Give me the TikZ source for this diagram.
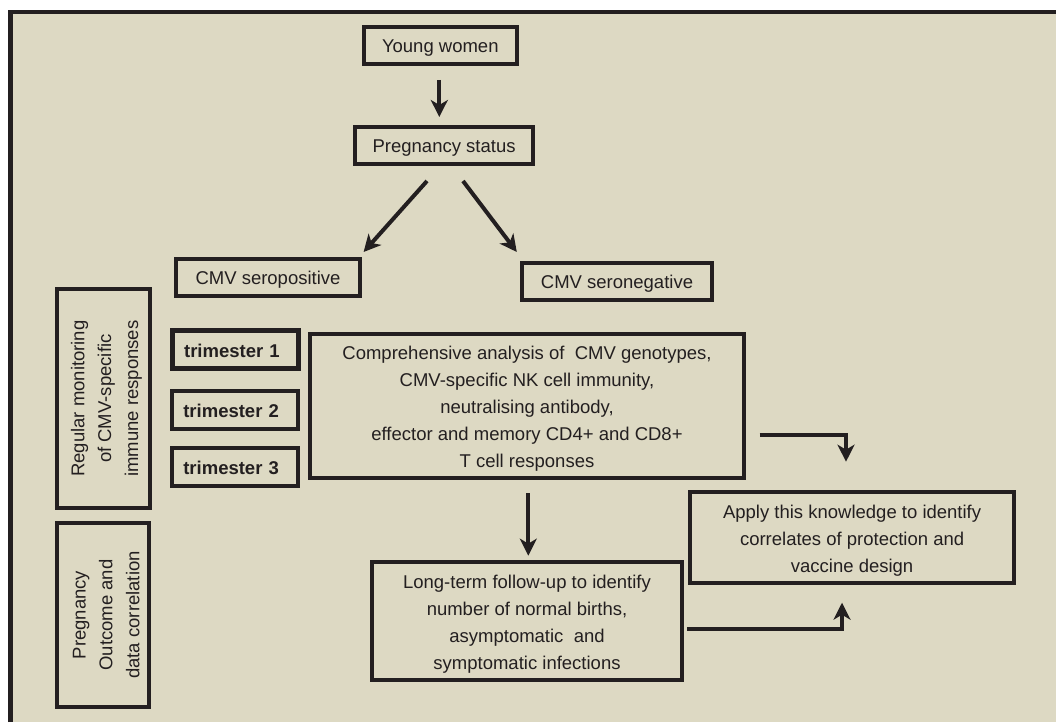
\documentclass[tikz,border=0pt]{standalone}
\usepackage{fontspec}
\setmainfont{Liberation Sans}
\usetikzlibrary{arrows.meta,calc}
\definecolor{bg}{HTML}{DDD9C3}
\definecolor{ink}{HTML}{231F20}
\newcommand\bstrut{\rule[-1.8pt]{0pt}{18.8pt}}
\begin{document}
\begin{tikzpicture}[x=1pt,y=-1pt,
  box/.style={draw=ink, line width=4pt, inner sep=0pt, align=center, text=ink,
    font=\fontsize{18.5}{26.9}\selectfont,
    execute at begin node=\bstrut, execute at end node=\bstrut},
  mtext/.style={inner sep=0pt, align=center, text=ink, font=\fontsize{18.5}{26.9}\selectfont},
  tribox/.style={box, align=left, inner xsep=11.3pt, text width=103.4pt, minimum height=#1,
    font=\fontsize{18.5}{26.9}\selectfont\bfseries},
  arr/.style={draw=ink, line width=4pt, -{Stealth[length=17pt,width=17pt,inset=5pt]}},
]
\useasboundingbox (0,0) rectangle (1056,722);
\fill[bg] (10.6,12) rectangle (1056,722);
\draw[ink, line width=4.5pt] (10.6,722) -- (10.6,12) -- (1056,12);

\node[box, minimum width=152.5pt, minimum height=37pt] (yw) at (440.3,45.5) {Young women};
\node[box, minimum width=178.5pt, minimum height=37pt] (ps) at (444.1,145.5) {Pregnancy status};
\node[box, minimum width=184pt, minimum height=37pt] (pos) at (268,277.5) {CMV seropositive};
\node[box, minimum width=190pt, minimum height=37pt] (neg) at (617,281.5) {CMV seronegative};

\node[box, minimum width=92.5pt, minimum height=218.7pt,
  label={[mtext, xshift=3pt, rotate=90]center:{Regular monitoring\\of CMV-specific\\immune responses}}]
  (reg) at (103.4,398.7) {};
\node[box, minimum width=92.5pt, minimum height=184pt,
  label={[mtext, xshift=3pt, rotate=90]center:{Pregnancy\\Outcome and\\data correlation}}]
  (out) at (103.2,615) {};

\node[tribox=37.4pt, line width=5pt] (t1) at (235.8,349.5) {trimester 1};
\node[tribox=37.7pt] (t2) at (235,410.2) {trimester 2};
\node[tribox=38.3pt] (t3) at (235,467.2) {trimester 3};

\node[box, minimum width=433.4pt, minimum height=144.3pt,
  label={[mtext, yshift=-3pt]center:{Comprehensive analysis of\ \ CMV genotypes,\\CMV-specific NK cell immunity,\\neutralising antibody,\\effector and memory CD4+ and CD8+\\T cell responses}}]
  (comp) at (527,406) {};
\node[box, minimum width=310pt, minimum height=118.7pt,
  label={[mtext, yshift=-3pt]center:{Long-term follow-up to identify\\number of normal births,\\asymptomatic\ \ and\\symptomatic infections}}]
  (lt) at (527,621) {};
\node[box, minimum width=324.2pt, minimum height=91pt,
  label={[mtext, yshift=-3pt]center:{Apply this knowledge to identify\\correlates of protection and\\vaccine design}}]
  (apply) at (852.1,537.5) {};

\draw[arr] ($(yw.south)+(-1,14)$) -- ($(yw.south |- ps.north)+(-1,-8)$);
\draw[arr] ($(ps.south)+(-17.1,15)$) -- ($(pos.north east)+(1.6,-5)$);
\draw[arr] ($(ps.south)+(18.9,15)$) -- ($(neg.north west)+(-3.2,-9)$);
\draw[arr] ($(comp.south)+(1.3,13.3)$) -- ($(lt.north)+(1.3,-4)$);
\draw[arr] ($(comp.east)+(13.9,29.3)$) -| ($(apply.north)+(-6.1,-28.3)$);
\draw[arr] ($(lt.east)+(3,7.7)$) -| ($(apply.south)+(-10.1,17.7)$);
\end{tikzpicture}
\end{document}
